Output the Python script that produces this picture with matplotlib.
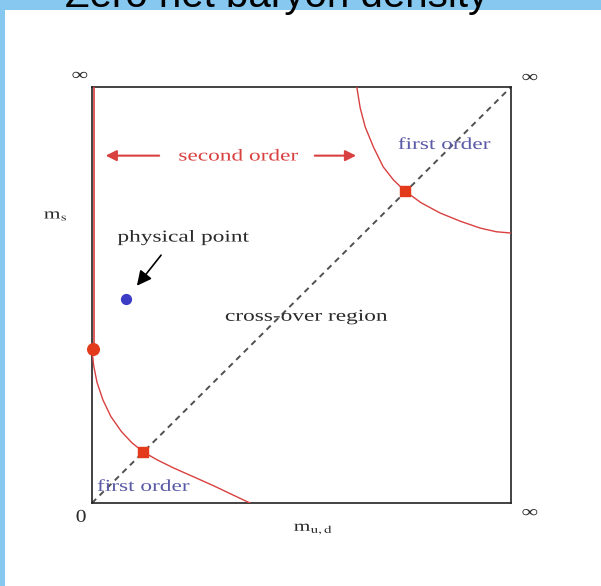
# Columbia plot style sketch: order of the QCD transition vs quark masses
import matplotlib
matplotlib.use("Agg")
import matplotlib.pyplot as plt
from matplotlib.patches import Rectangle, PathPatch
from matplotlib.textpath import TextPath
from matplotlib.font_manager import FontProperties
from matplotlib.transforms import Affine2D, ScaledTranslation

plt.rcParams['mathtext.fontset'] = 'stix'

# ---- data (axes run 0 .. infinity, drawn as 0 .. 1) ----
# lower-left first order boundary (m_ud small)
low_x = [0.0, 0.004, 0.012, 0.026, 0.045, 0.07, 0.095, 0.122, 0.155, 0.193, 0.24, 0.289, 0.335, 0.377]
low_y = [0.368, 0.33, 0.29, 0.248, 0.208, 0.172, 0.145, 0.123, 0.104, 0.085, 0.064, 0.042, 0.02, 0.0]
# second order line along m_ud = 0
left_x = [0.004, 0.004]
left_y = [0.368, 1.0]
# upper-right first order boundary (heavy quarks)
high_x = [0.632, 0.64, 0.652, 0.672, 0.695, 0.72, 0.747, 0.785, 0.831, 0.88, 0.926, 0.965, 1.0]
high_y = [1.0, 0.95, 0.904, 0.855, 0.808, 0.776, 0.75, 0.722, 0.697, 0.677, 0.661, 0.652, 0.649]
# critical end points
crit_sq_x = [0.122, 0.747]
crit_sq_y = [0.123, 0.75]
crit_dot = (0.002, 0.37)
# physical point
phys = (0.081, 0.49)
# diagonal m_s = m_ud
diag_x = [0.0, 1.0]
diag_y = [0.0, 1.0]

RED = '#d94040'
BLUE = '#5a5aa6'
INK = '#2a2a2a'


def stext(ax, x, y, s, size=12, color=INK, sx=1.4, family='Liberation Serif'):
    # text drawn as a path so it can be stretched sideways like the scan
    fp = FontProperties(family=[family, 'DejaVu Serif'])
    tp = TextPath((0, 0), s, size=size, prop=fp)
    ext = tp.get_extents()
    cx = (ext.x0 + ext.x1) / 2
    cy = (ext.y0 + ext.y1) / 2
    k = ax.figure.dpi / 72
    tr = Affine2D().translate(-cx, -cy).scale(sx * k, k) + ScaledTranslation(x, y, ax.transData)
    ax.add_patch(PathPatch(tp, transform=tr, fc=color, ec='none', clip_on=False, zorder=5))


fig = plt.figure(figsize=(6.01, 5.86), dpi=100)
fig.patch.set_facecolor('#86c8f0')
fig.add_artist(Rectangle((5 / 601, 0), 1, (586 - 10) / 586, transform=fig.transFigure,
                         fc='white', ec='none', zorder=-1))
fig.text(277 / 601, 1 - 7 / 586, 'Zero net baryon density', ha='center', va='baseline',
         fontsize=29, family='Liberation Sans', color='black', zorder=10)

ax = fig.add_axes([92 / 601, 83 / 586, 419 / 601, 416 / 586])
ax.set_xticks([])
ax.set_yticks([])
for sp in ax.spines.values():
    sp.set_linewidth(1.2)
    sp.set_color('#222222')

ax.plot(diag_x, diag_y, color='#505050', lw=1.4, dashes=(3, 2.5), zorder=2)
ax.plot(low_x, low_y, color=RED, lw=1.0, zorder=3)
ax.plot(left_x, left_y, color=RED, lw=1.2, zorder=3)
ax.plot(high_x, high_y, color=RED, lw=1.0, zorder=3)
ax.scatter(crit_sq_x, crit_sq_y, marker='s', s=55, color='#e33a1c', zorder=4)
ax.scatter([crit_dot[0]], [crit_dot[1]], marker='o', s=70, color='#e33a1c', zorder=4, clip_on=False)
ax.scatter([phys[0]], [phys[1]], marker='o', s=50, color='#3c3cc4', zorder=4)

# arrows
ax.annotate('', xy=(0.103, 0.517), xytext=(0.169, 0.601),
            arrowprops=dict(arrowstyle='-|>', color='black', lw=1.2, mutation_scale=22))
ax.annotate('', xy=(0.026, 0.835), xytext=(0.167, 0.835),
            arrowprops=dict(arrowstyle='-|>', color=RED, lw=1.5, mutation_scale=16))
ax.annotate('', xy=(0.637, 0.835), xytext=(0.525, 0.835),
            arrowprops=dict(arrowstyle='-|>', color=RED, lw=1.5, mutation_scale=16))

# labels
stext(ax, 0.35, 0.837, 'second order', color=RED)
stext(ax, 0.841, 0.865, 'first order', color=BLUE)
stext(ax, 0.123, 0.043, 'first order', color=BLUE)
stext(ax, 0.218, 0.638, 'physical point')
stext(ax, 0.512, 0.447, 'cross-over region')
stext(ax, -0.088, 0.69, r'm$_\mathrm{s}$', size=11)
stext(ax, 0.527, -0.0625, r'm$_\mathrm{u,d}$', size=11)
stext(ax, -0.026, -0.031, '0', size=13, sx=1.2)
stext(ax, -0.029, 1.029, '∞', size=12)
stext(ax, 1.045, 1.024, '∞', size=12)
stext(ax, 1.045, -0.022, '∞', size=12)

ax.set_xlim(0, 1)
ax.set_ylim(0, 1)
fig.savefig('out.png', dpi=100, facecolor=fig.get_facecolor())
